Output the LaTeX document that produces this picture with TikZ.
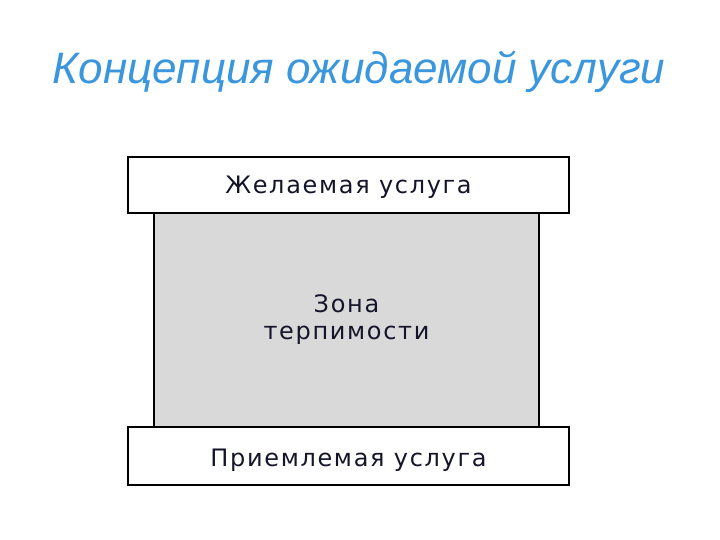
\documentclass[tikz,border=0pt]{standalone}
\usepackage{fontspec}
\setmainfont{Liberation Sans}
\newfontfamily\boxfont[LetterSpace=7]{DejaVu Sans}
\definecolor{titleblue}{HTML}{3A96DD}
\definecolor{zonegray}{HTML}{D9D9D9}
\definecolor{txt}{HTML}{15152A}
\newcommand{\lowr}[2]{\raisebox{-#1}[0pt][0pt]{#2}}
\begin{document}
\begin{tikzpicture}[x=1pt,y=-1pt,
  lvlbox/.style={draw=black,line width=1.8pt,fill=white,minimum width=441pt,minimum height=56pt,inner sep=0pt,font=\boxfont\fontsize{24}{27}\selectfont,text=txt},
  zonebox/.style={draw=black,line width=1.8pt,fill=zonegray,minimum width=385pt,minimum height=214pt,inner sep=0pt,align=center,font=\boxfont\fontsize{24}{27}\selectfont,text=txt}]
\useasboundingbox (0,0) rectangle (720,540);
\node[font=\itshape\fontsize{44}{50}\selectfont,text=titleblue] (title) at (359,72) {Концепция ожидаемой услуги};
\node[zonebox] (zone) at (346.5,320) {\lowr{7pt}{\begin{tabular}{@{}c@{}}Зона\\[0pt]терпимости\end{tabular}}};
\node[lvlbox] (top) at (348.5,185) {\lowr{9pt}{Желаемая услуга}};
\node[lvlbox,minimum height=58pt] (bottom) at (348.5,456) {\lowr{10pt}{Приемлемая услуга}};
\end{tikzpicture}
\end{document}
